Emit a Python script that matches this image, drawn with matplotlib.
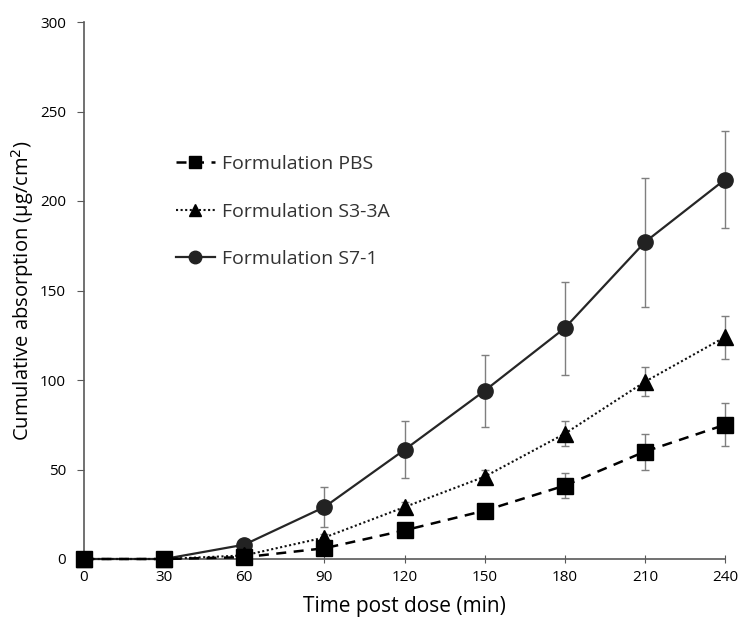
import matplotlib
matplotlib.use("Agg")
import matplotlib.pyplot as plt
from matplotlib.lines import Line2D

plt.rcParams['font.family'] = ['Open Sans', 'DejaVu Sans']

time = [0, 30, 60, 90, 120, 150, 180, 210, 240]
pbs = [0, 0, 1, 6, 16, 27, 41, 60, 75]
pbs_err = [0, 0, 1, 2, 2, 3, 7, 10, 12]
s33a = [0, 0, 2, 12, 29, 46, 70, 99, 124]
s33a_err = [0, 0, 1, 2, 3, 4, 7, 8, 12]
s71 = [0, 0, 8, 29, 61, 94, 129, 177, 212]
s71_err = [0, 0, 1, 11, 16, 20, 26, 36, 27]

labels = ["Formulation PBS", "Formulation S3-3A", "Formulation S7-1"]
xticks = [0, 30, 60, 90, 120, 150, 180, 210, 240]
yticks = [0, 50, 100, 150, 200, 250, 300]

fig = plt.figure(figsize=(7.38, 6.23), dpi=100)
ax = fig.add_axes([84/738, 1-559/623, (725-84)/738, (559-22)/623])

ekw = dict(ecolor='#7f7f7f', elinewidth=1.0, capsize=3, capthick=1.0)

st71 = dict(color='#262626', lw=1.6, ls='-', marker='o', mfc='#222222', mec='#222222')
st33 = dict(color='#111111', lw=1.5, ls=(0, (1, 1.2)), marker='^', mfc='black', mec='black')
stpb = dict(color='black', lw=1.8, ls=(0, (4, 3)), marker='s', mfc='black', mec='black')

ax.errorbar(time, s71, yerr=s71_err, ms=11, zorder=3, **st71, **ekw)
ax.errorbar(time, s33a, yerr=s33a_err, ms=11, zorder=4, **st33, **ekw)
ax.errorbar(time, pbs, yerr=pbs_err, ms=11, zorder=5, **stpb, **ekw)

ax.set_xlim(0, 240)
ax.set_ylim(0, 300)
ax.set_xticks(xticks)
ax.set_yticks(yticks)
for s in ['top', 'right']:
    ax.spines[s].set_visible(False)
for s in ['left', 'bottom']:
    ax.spines[s].set_color('#595959')
    ax.spines[s].set_linewidth(1.2)
ax.tick_params(axis='x', direction='inout', length=6, color='#595959', labelsize=11, pad=5)
ax.tick_params(axis='y', direction='out', length=5, color='#595959', labelsize=11, pad=8)
for sp in ax.spines.values():
    sp.set_clip_on(False)

ax.set_xlabel("Time post dose (min)", fontsize=15, labelpad=8)
ax.set_ylabel("Cumulative absorption (µg/cm$^2$)", fontsize=14.5, labelpad=3)

handles = [Line2D([], [], ms=9, **stpb), Line2D([], [], ms=9, **st33), Line2D([], [], ms=9, **st71)]
leg = fig.legend(handles, labels, loc='upper left',
                 bbox_to_anchor=(176/738, 1-155/623), bbox_transform=fig.transFigure,
                 frameon=False, fontsize=14, borderpad=0, borderaxespad=0,
                 labelspacing=1.52, handlelength=2.0, handletextpad=0.35)
for t in leg.get_texts():
    t.set_color('#333333')

for m in ax.collections + ax.lines:
    m.set_clip_on(False)

fig.savefig("out.png", dpi=100)
